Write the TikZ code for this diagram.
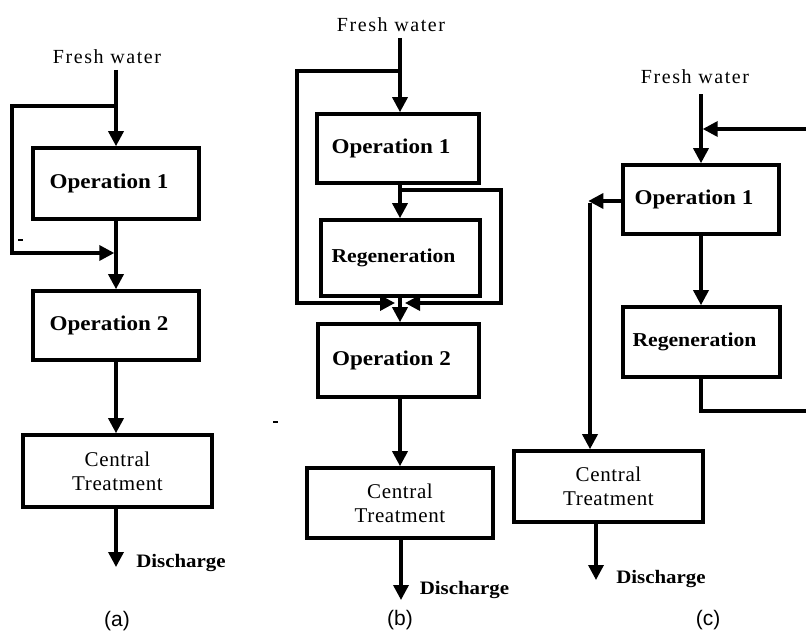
\documentclass[tikz,border=0pt]{standalone}
\usepackage{fontspec}
\usetikzlibrary{arrows.meta}
\setmainfont{Liberation Serif}
\newfontfamily\opfont[FakeStretch=1.1]{Liberation Serif}
\newfontfamily\fwfont[LetterSpace=8]{Liberation Serif}
\newfontfamily\ctfont[LetterSpace=3]{Liberation Serif}
\newfontfamily\capfont{Liberation Sans}

\tikzset{
  box/.style={draw, line width=3.6pt, inner sep=0pt},
  opbox/.style={box, font=\opfont\bfseries\fontsize{21}{25}\selectfont,
    execute at begin node={\hspace*{-14pt}}},
  regbox/.style={box, font=\opfont\bfseries\fontsize{19.7}{24}\selectfont,
    execute at begin node={\hspace*{-14pt}}},
  ctbox/.style={box, align=center, font=\ctfont\fontsize{21}{24}\selectfont},
  fresh/.style={inner sep=0pt, font=\fwfont\fontsize{20}{22}\selectfont},
  dis/.style={inner sep=0pt, font=\opfont\bfseries\fontsize{19}{22}\selectfont},
  panel/.style={inner sep=0pt, font=\capfont\fontsize{21}{24}\selectfont},
  flow/.style={line width=3.4pt, -{Triangle[length=15pt,width=15pt]}},
  pipe/.style={line width=3.4pt},
  speck/.style={line width=1.4pt}
}

\begin{document}
\begin{tikzpicture}[x=1pt, y=-1pt]
\useasboundingbox (0,0) rectangle (806,634);

% ---------------- (a) ----------------
\node[fresh] (fwA) at (107,57) {Fresh water};
\node[opbox, minimum width=166pt, minimum height=71pt] (opA1) at (116,183.5) {Operation 1};
\node[opbox, minimum width=166pt, minimum height=69pt] (opA2) at (116,325.5) {Operation 2};
\node[ctbox, minimum width=189pt, minimum height=72pt] (ctA) at (117.5,471) {Central\\Treatment};
\node[dis] (dsA) at (181,563) {Discharge};
\node[panel] (lbA) at (117,621) {(a)};

\coordinate (srcA) at (116,70);
\coordinate (splitA) at (116,106);
\coordinate (joinA) at (116,253);
\coordinate (outA) at (116,567);

\draw[flow] (srcA) -- (opA1.north);
\draw[flow, shorten >=1.7pt] (splitA) -- (12,106) |- (joinA);
\draw[flow] (opA1.south) -- (opA2.north);
\draw[flow] (opA2.south) -- (opA2.south |- ctA.north);
\draw[flow] (ctA.south -| outA) -- (outA);
\draw[speck] (18,240) -- (23,240);

% ---------------- (b) ----------------
\node[fresh] (fwB) at (391,25) {Fresh water};
\node[opbox, minimum width=162pt, minimum height=69pt] (opB1) at (398,148.5) {Operation 1};
\node[regbox, minimum width=159pt, minimum height=76pt] (regB) at (400.5,258) {Regeneration};
\node[opbox, minimum width=161pt, minimum height=73pt] (opB2) at (398.5,360.5) {Operation 2};
\node[ctbox, minimum width=186pt, minimum height=70pt] (ctB) at (400,503) {Central\\Treatment};
\node[dis] (dsB) at (464.5,590) {Discharge};
\node[panel] (lbB) at (400,620) {(b)};

\coordinate (srcB) at (400,38);
\coordinate (splitB) at (400,71);
\coordinate (branchB) at (400,190);
\coordinate (mergeB) at (400,303);
\coordinate (outB) at (401,600);

\draw[flow] (srcB) -- (srcB |- opB1.north);
\draw[flow, shorten >=5pt] (splitB) -- (297,71) |- (mergeB);
\draw[flow] (srcB |- opB1.south) -- (srcB |- regB.north);
\draw[flow, shorten >=5pt] (branchB) -- (501,190) |- (mergeB);
\draw[flow] (srcB |- regB.south) -- (srcB |- opB2.north);
\draw[flow] (srcB |- opB2.south) -- (srcB |- ctB.north);
\draw[flow] (outB |- ctB.south) -- (outB);
\draw[speck] (273,422) -- (278,422);

% ---------------- (c) ----------------
\node[fresh] (fwC) at (695,77) {Fresh water};
\node[opbox, minimum width=156pt, minimum height=69pt] (opC1) at (701,199.5) {Operation 1};
\node[regbox, minimum width=157pt, minimum height=70pt] (regC) at (701.5,342) {Regeneration};
\node[ctbox, minimum width=189pt, minimum height=71pt] (ctC) at (608.5,486.5) {Central\\Treatment};
\node[dis] (dsC) at (661,579) {Discharge};
\node[panel] (lbC) at (708,620) {(c)};

\coordinate (srcC) at (701,94);
\coordinate (joinC) at (701,129);
\coordinate (recycleIn) at (806,129);
\coordinate (recycleOut) at (806,411);
\coordinate (cornerC) at (590,201);
\coordinate (outC) at (596,580);

\draw[flow] (srcC) -- (srcC |- opC1.north);
\draw[flow, shorten >=1.7pt] (recycleIn) -- (joinC);
\draw[flow] (srcC |- opC1.south) -- (srcC |- regC.north);
\draw[pipe] (srcC |- regC.south) |- (recycleOut);
\draw[flow, shorten >=-1.7pt] (opC1.west |- cornerC) -- (cornerC);
\draw[flow] ([yshift=-1.7pt]cornerC) -- (cornerC |- ctC.north);
\draw[flow] (outC |- ctC.south) -- (outC);
\end{tikzpicture}
\end{document}
